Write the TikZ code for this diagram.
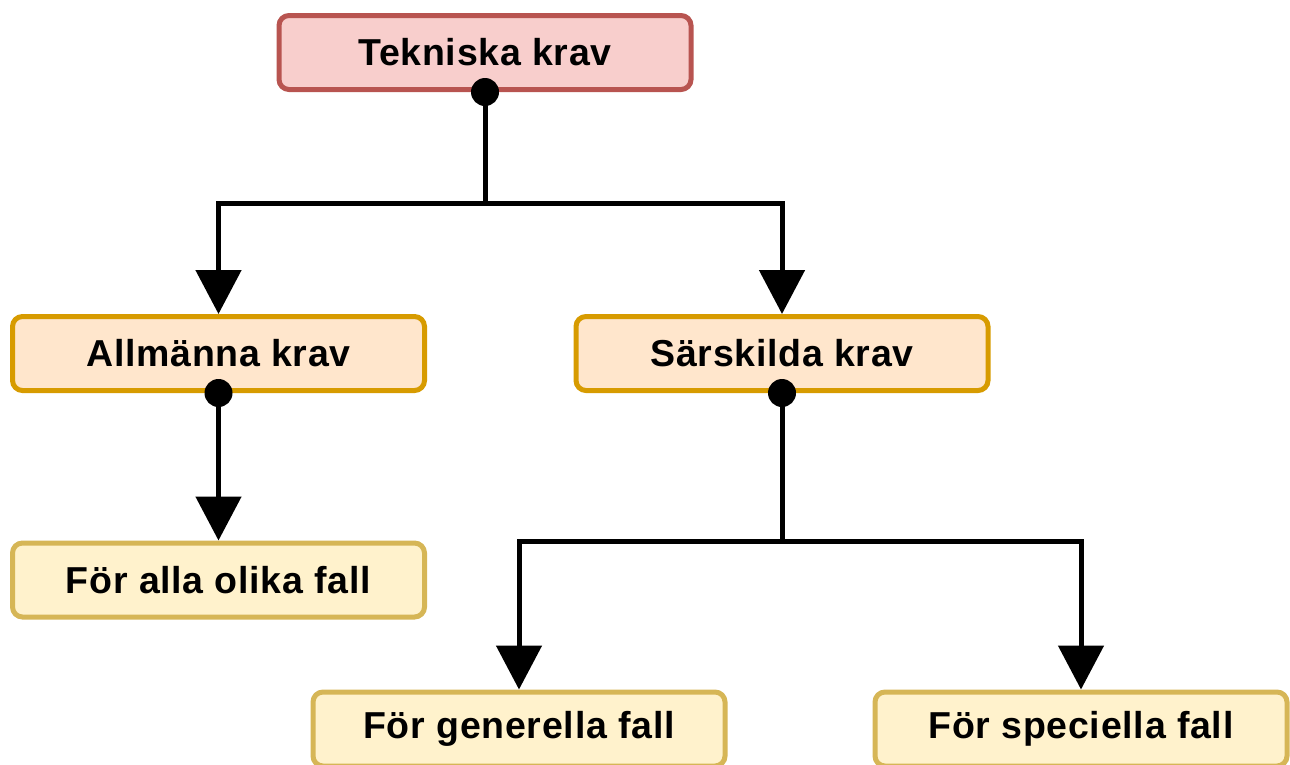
\documentclass[tikz,border=0pt]{standalone}
\usepackage{fontspec}
\setmainfont{Liberation Sans}
\usetikzlibrary{arrows.meta}
\definecolor{redS}{HTML}{B85450}
\definecolor{redF}{HTML}{F8CECC}
\definecolor{orgS}{HTML}{D79B00}
\definecolor{orgF}{HTML}{FFE6CC}
\definecolor{ylwS}{HTML}{D6B656}
\definecolor{ylwF}{HTML}{FFF2CC}
\tikzset{
  box/.style={draw, line width=5pt, rounded corners=10pt, minimum width=412pt, minimum height=74pt,
    inner sep=0pt, font=\bfseries\fontsize{37.5}{44}\selectfont\addfontfeatures{LetterSpace=2}, text=black},
  redbox/.style={box, draw=redS, fill=redF},
  orgbox/.style={box, draw=orgS, fill=orgF},
  ylwbox/.style={box, draw=ylwS, fill=ylwF},
  conn/.style={line width=5pt, -{Triangle[length=44pt,width=45pt]}},
  plain/.style={line width=5pt},
  dot/.style={fill=black}
}
\begin{document}
\begin{tikzpicture}[x=1pt,y=-1pt]
\useasboundingbox (0,0) rectangle (1290,764);
\node[redbox] (t) at (485,52.5) {Tekniska krav};
\node[orgbox] (a) at (218.5,353.5) {Allmänna krav};
\node[orgbox] (s) at (782,353.5) {Särskilda krav};
\node[ylwbox] (f) at (218.5,580) {För alla olika fall};
\node[ylwbox] (g) at (519,729) {För generella fall};
\node[ylwbox] (p) at (1081,729) {För speciella fall};
\coordinate (j1) at (485,203);
\coordinate (j2) at (782,541);
% top branch
\draw[plain] (t.south) -- (j1);
\draw[conn] (j1) -| (a.north);
\draw[conn] (j1) -| (s.north);
% left
\draw[conn] (a.south) -- (f.north);
% right branch
\draw[plain] (s.south) -- (j2);
\draw[conn] (j2) -| (g.north);
\draw[conn] (j2) -| (p.north);
% dots
\fill[dot] (t.south) circle (14);
\fill[dot] (a.south) circle (14);
\fill[dot] (s.south) circle (14);
\end{tikzpicture}
\end{document}
